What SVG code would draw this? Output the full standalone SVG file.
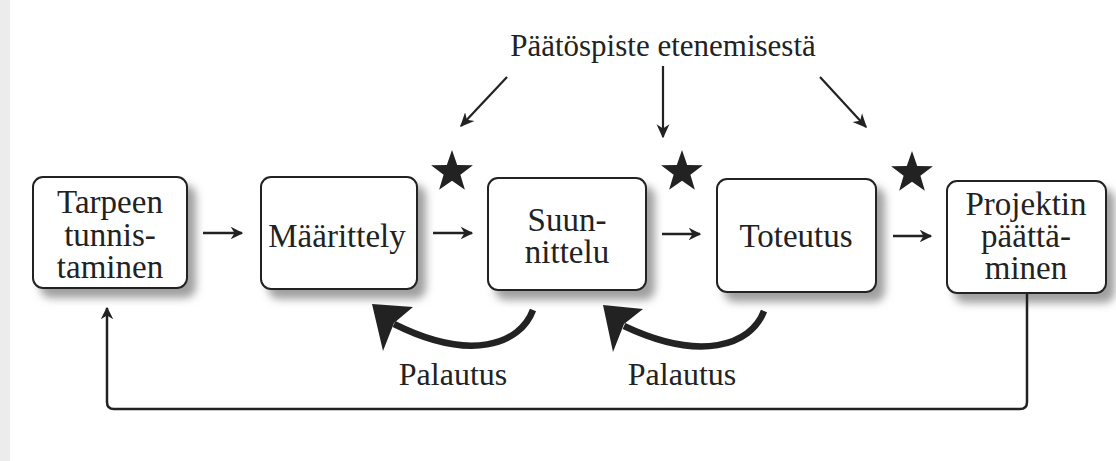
<svg xmlns="http://www.w3.org/2000/svg" width="1116" height="461" viewBox="0 0 1116 461">
<style>
.box{fill:#fff;stroke:#222;stroke-width:2}
.t{font-family:"Liberation Serif",serif;font-size:33px;fill:#222;text-anchor:middle}
.tt{font-size:31px}
.pl{font-size:32px}
.ln{fill:none;stroke:#222;stroke-width:2.5}
.thin{fill:none;stroke:#222;stroke-width:2.2}
.star{fill:#222}
.fb{fill:none;stroke:#222;stroke-width:6.5}
</style>
<defs>
<filter id="sh" x="-10%" y="-10%" width="130%" height="140%">
<feDropShadow dx="8" dy="9" stdDeviation="4" flood-color="#777" flood-opacity="0.7"/>
</filter>
<marker id="ah" viewBox="0 0 10 10" refX="9" refY="5" markerWidth="5" markerHeight="5" orient="auto" markerUnits="strokeWidth">
<path d="M0,0 L10,5 L0,10 L3,5 Z" fill="#222"/>
</marker>
<marker id="ah2" viewBox="0 0 10 10" refX="9" refY="5" markerWidth="6.5" markerHeight="6.5" orient="auto" markerUnits="strokeWidth">
<path d="M0,0.5 L10,5 L0,9.5 L3,5 Z" fill="#222"/>
</marker>
<polygon id="st" points="0,-22 5.2,-7.1 20.9,-6.8 8.4,2.7 12.9,17.8 0,8.8 -12.9,17.8 -8.4,2.7 -20.9,-6.8 -5.2,-7.1"/>
</defs>
<rect x="0" y="0" width="1116" height="461" fill="#fff"/>
<rect x="0" y="0" width="10" height="461" fill="#ececec"/>

<g id="n1">
<rect class="box" x="33" y="177" width="154" height="111" rx="10" filter="url(#sh)"/>
<text class="t" x="110" y="213">Tarpeen</text>
<text class="t" x="110" y="246">tunnis-</text>
<text class="t" x="110" y="278">taminen</text>
</g>
<g id="n2">
<rect class="box" x="261" y="177" width="156" height="112" rx="10" filter="url(#sh)"/>
<text class="t" x="337" y="247">Määrittely</text>
</g>
<g id="n3">
<rect class="box" x="488" y="178" width="158" height="112" rx="10" filter="url(#sh)"/>
<text class="t" x="567" y="231">Suun-</text>
<text class="t" x="567" y="263">nittelu</text>
</g>
<g id="n4">
<rect class="box" x="717" y="179" width="159" height="113" rx="10" filter="url(#sh)"/>
<text class="t" x="796" y="247">Toteutus</text>
</g>
<g id="n5">
<rect class="box" x="947" y="181" width="159" height="112" rx="10" filter="url(#sh)"/>
<text class="t" x="1026" y="215">Projektin</text>
<text class="t" x="1026" y="247">päättä-</text>
<text class="t" x="1026" y="279">minen</text>
</g>

<g id="title">
<text class="t tt" x="663" y="56">Päätöspiste etenemisestä</text>
</g>

<g id="stars">
<use href="#st" class="star" x="452" y="172"/>
<use href="#st" class="star" x="682" y="172"/>
<use href="#st" class="star" x="912" y="173"/>
</g>

<g id="connectors">
<line class="ln" x1="203" y1="233" x2="242" y2="233" marker-end="url(#ah)"/>
<line class="ln" x1="433" y1="233" x2="472" y2="233" marker-end="url(#ah)"/>
<line class="ln" x1="662" y1="234" x2="700" y2="234" marker-end="url(#ah)"/>
<line class="ln" x1="893" y1="236" x2="931" y2="236" marker-end="url(#ah)"/>

<line class="thin" x1="507" y1="77" x2="461" y2="126" marker-end="url(#ah2)"/>
<line class="thin" x1="663" y1="66" x2="663" y2="137" marker-end="url(#ah2)"/>
<line class="thin" x1="820" y1="77" x2="866" y2="127" marker-end="url(#ah2)"/>

<path class="fb" d="M533,310 C520,345 470,362 394,324"/>
<polygon points="372,304 413,307 394,323 383,351" fill="#222"/>
<path class="fb" d="M764,311 C751,346 700,362 624,326"/>
<polygon points="603,305 643,309 624,324 613,352" fill="#222"/>

<path class="ln" d="M1027,293 V402 Q1027,409 1020,409 H114 Q107,409 107,402 V308" marker-end="url(#ah)"/>
</g>

<g id="labels">
<text class="t pl" x="453" y="385">Palautus</text>
<text class="t pl" x="682" y="385">Palautus</text>
</g>
</svg>
